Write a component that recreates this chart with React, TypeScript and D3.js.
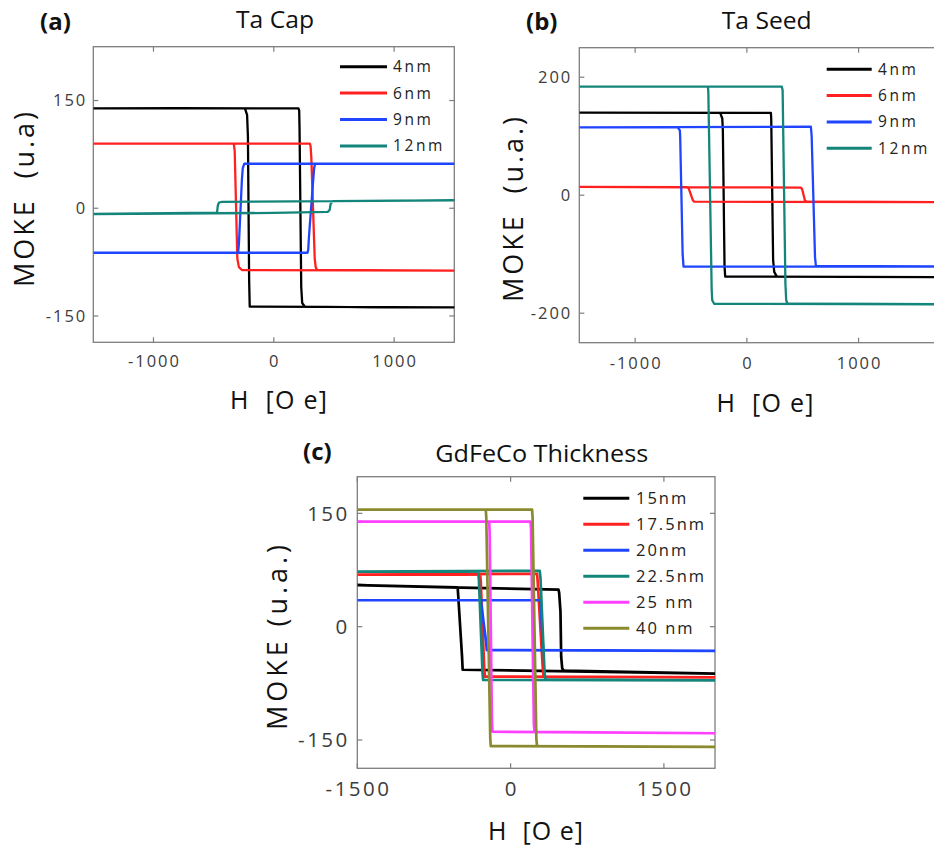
import React from 'react';
import * as d3 from 'd3';

type Pt = [number, number];

// ---------- Panel (a): Ta Cap ----------
const capLabels = ['4nm', '6nm', '9nm', '12nm'];
const capColors = ['#000000', '#ff2020', '#1f45ff', '#14857a'];
const capXTicks = [-1000, 0, 1000];
const capYTicks = [-150, 0, 150];
const cap4nm: Pt[] = [[-1500, 139], [-800, 139.5], [205, 139], [211, 136], [214, 110], [228, -110], [236, -132], [258, -137], [800, -138], [1500, -138], [-200, -137], [-205, -100], [-215, 100], [-222, 130], [-240, 139], [-1500, 139]];
const cap6nm: Pt[] = [[-1500, 90], [300, 90], [306, 86], [312, 70], [340, -70], [348, -82], [360, -86], [1500, -87], [-265, -86], [-290, -82], [-303, -70], [-325, 80], [-333, 90], [-1500, 90]];
const cap9nm: Pt[] = [[-1500, -62], [280, -62], [286, -58], [292, -40], [330, 45], [336, 57], [345, 62], [1500, 62], [-245, 62], [-258, 56], [-265, 40], [-290, -50], [-297, -62], [-1500, -62]];
const cap12nm: Pt[] = [[-1500, -8], [0, -6.5], [450, -5], [465, -2], [472, 6], [490, 10], [1000, 10.5], [1500, 11], [-430, 9], [-455, 8], [-465, 4], [-472, -6], [-1500, -8]];

// ---------- Panel (b): Ta Seed ----------
const seedLabels = ['4nm', '6nm', '9nm', '12nm'];
const seedColors = ['#000000', '#ff2020', '#1f45ff', '#14857a'];
const seedXTicks = [-1000, 0, 1000];
const seedYTicks = [-200, 0, 200];
const seed4nm: Pt[] = [[-1500, 140], [215, 139.5], [218, 130], [235, -110], [245, -130], [268, -138], [2000, -139], [-194, -138], [-200, -120], [-215, 110], [-220, 130], [-239, 139.5], [-1500, 140]];
const seed6nm: Pt[] = [[-1500, 14], [483, 13], [495, 10], [520, -9], [531, -11], [2000, -12], [-472, -11], [-485, -8], [-520, 11], [-532, 13.5], [-1500, 14]];
const seed9nm: Pt[] = [[-1500, 115], [573, 116], [580, 100], [610, -105], [618, -120], [2000, -121], [-567, -121], [-575, -100], [-597, 100], [-600, 110], [-621, 115.5], [-1500, 115]];
const seed12nm: Pt[] = [[-1500, 184], [313, 184], [320, 178], [345, -150], [352, -178], [364, -184], [2000, -185], [-293, -184], [-310, -178], [-315, -160], [-345, 175], [-349, 184], [-1500, 184]];

// ---------- Panel (c): GdFeCo Thickness ----------
const gdLabels = ['15nm', '17.5nm', '20nm', '22.5nm', '25 nm', '40 nm'];
const gdColors = ['#000000', '#ff2020', '#1f45ff', '#14857a', '#ff40ff', '#8a8a2e'];
const gdXTicks = [-1500, 0, 1500];
const gdYTicks = [-150, 0, 150];
const gd15nm: Pt[] = [[-1500, 55], [-600, 52], [469, 49], [475, 45], [488, 20], [495, -40], [505, -55], [518, -58], [2000, -62], [-469, -57], [-475, -40], [-512, 40], [-518, 52], [-1500, 55]];
const gd17nm: Pt[] = [[-1500, 69], [259, 70], [265, 60], [315, -55], [323, -66], [2000, -67], [-252, -66], [-258, -55], [-292, 60], [-298, 69], [-1500, 69]];
const gd20nm: Pt[] = [[-1500, 35], [291, 35], [297, 25], [315, -25], [320, -31], [2000, -32], [-233, -31], [-240, -20], [-285, 28], [-290, 35], [-1500, 35]];
const gd22nm: Pt[] = [[-1500, 73], [285, 74], [292, 65], [332, -60], [340, -70], [2000, -71], [-269, -70.5], [-275, -60], [-310, 62], [-317, 73], [-1500, 73]];
const gd25nm: Pt[] = [[-1500, 139], [195, 139], [200, 130], [228, -130], [235, -139], [2000, -141], [-178, -139], [-183, -125], [-205, 125], [-210, 139], [-1500, 139]];
const gd40nm: Pt[] = [[-1500, 155], [210, 155], [215, 145], [252, -148], [259, -158], [2000, -159], [-194, -158], [-199, -148], [-238, 145], [-243, 155], [-1500, 155]];

const FONT = "'Open Sans', 'DejaVu Sans', sans-serif";
const AXIS = '#7d7d7d';
const TICKTXT = '#3c3c3c';

type PanelProps = {
  id: string;
  x0: number; x1: number; y0: number; y1: number;
  xDomain: [number, number]; yDomain: [number, number];
  xTicks: number[]; yTicks: number[];
  series: Pt[][]; colors: string[]; labels: string[];
  lineW: number;
  tickFont: number; tickLS: number; yTickGap: number; xTickDy: number;
  leg: { lx0: number; lx1: number; tx: number; y: number; step: number; font: number; ls: number };
};

function Panel(p: PanelProps) {
  const xs = d3.scaleLinear().domain(p.xDomain).range([p.x0, p.x1]);
  const ys = d3.scaleLinear().domain(p.yDomain).range([p.y1, p.y0]);
  const line = d3.line<Pt>().x((d) => xs(d[0])).y((d) => ys(d[1]));
  const tl = 5;
  return (
    <g>
      <defs>
        <clipPath id={p.id}>
          <rect x={p.x0} y={p.y0} width={p.x1 - p.x0} height={p.y1 - p.y0} />
        </clipPath>
      </defs>
      <rect x={p.x0} y={p.y0} width={p.x1 - p.x0} height={p.y1 - p.y0} fill="#fff" stroke={AXIS} strokeWidth={1.3} />
      {p.xTicks.map((t) => (
        <g key={'xt' + t}>
          <line x1={xs(t)} x2={xs(t)} y1={p.y1} y2={p.y1 - tl} stroke={AXIS} strokeWidth={1.2} />
          <line x1={xs(t)} x2={xs(t)} y1={p.y0} y2={p.y0 + tl} stroke={AXIS} strokeWidth={1.2} />
          <text x={xs(t) + p.tickLS / 2} y={p.y1 + p.xTickDy} textAnchor="middle" fontFamily={FONT} fontSize={p.tickFont} fill={TICKTXT} style={{ letterSpacing: p.tickLS + 'px' }}>{t}</text>
        </g>
      ))}
      {p.yTicks.map((t) => (
        <g key={'yt' + t}>
          <line x1={p.x0} x2={p.x0 + tl} y1={ys(t)} y2={ys(t)} stroke={AXIS} strokeWidth={1.2} />
          <line x1={p.x1} x2={p.x1 - tl} y1={ys(t)} y2={ys(t)} stroke={AXIS} strokeWidth={1.2} />
          <text x={p.x0 - p.yTickGap + p.tickLS} y={ys(t)} dy="0.36em" textAnchor="end" fontFamily={FONT} fontSize={p.tickFont} fill={TICKTXT} style={{ letterSpacing: p.tickLS + 'px' }}>{t}</text>
        </g>
      ))}
      <g clipPath={`url(#${p.id})`}>
        {p.series.map((s, i) => (
          <path key={i} d={line(s) || ''} fill="none" stroke={p.colors[i]} strokeWidth={p.lineW} strokeLinejoin="round" />
        ))}
        {p.labels.map((lab, i) => {
          const y = p.leg.y + i * p.leg.step;
          return (
            <g key={'lg' + i}>
              <line x1={p.leg.lx0} x2={p.leg.lx1} y1={y} y2={y} stroke={p.colors[i]} strokeWidth={3} />
              <text x={p.leg.tx} y={y} dy="0.36em" fontFamily={FONT} fontSize={p.leg.font} fill="#222" style={{ letterSpacing: p.leg.ls + 'px', whiteSpace: 'pre' }}>{lab}</text>
            </g>
          );
        })}
      </g>
    </g>
  );
}

function YLabel({ x, y, len, text, size }: { x: number; y: number; len: number; text: string; size: number }) {
  return (
    <text transform={`translate(${x},${y}) rotate(-90)`} textAnchor="middle" fontFamily={FONT} fontSize={size} fill="#111" textLength={len} lengthAdjust="spacing" style={{ whiteSpace: 'pre' }}>{text}</text>
  );
}

function XLabel({ x, y, len, text, size }: { x: number; y: number; len: number; text: string; size: number }) {
  return (
    <text x={x} y={y} textAnchor="middle" fontFamily={FONT} fontSize={size} fill="#111" textLength={len} lengthAdjust="spacing" style={{ whiteSpace: 'pre' }}>{text}</text>
  );
}

function Title({ x, y, len, text }: { x: number; y: number; len: number; text: string }) {
  return <text x={x} y={y} textAnchor="middle" fontFamily={FONT} fontSize={23.5} fill="#111" textLength={len} lengthAdjust="spacingAndGlyphs">{text}</text>;
}

function Tag({ x, y, text }: { x: number; y: number; text: string }) {
  return <text x={x} y={y} fontFamily={FONT} fontSize={24} fontWeight="bold" fill="#111">{text}</text>;
}

export default function App() {
  return (
    <div style={{ position: 'absolute', left: 0, top: 0 }}>
      <svg width={934} height={850} viewBox="0 0 934 850" style={{ display: 'block', background: '#fff' }}>
        <rect x={0} y={0} width={934} height={850} fill="#fff" />
        {/* (a) */}
        <Tag x={40} y={30} text="(a)" />
        <Title x={275} y={28} len={78} text="Ta Cap" />
        <Panel
          id="clipA" x0={93.3} x1={454.3} y0={46.7} y1={342.3}
          xDomain={[-1500, 1500]} yDomain={[-186.7, 225]}
          xTicks={capXTicks} yTicks={capYTicks}
          series={[cap4nm, cap6nm, cap9nm, cap12nm]} colors={capColors} labels={capLabels}
          lineW={2.3} tickFont={16.5} tickLS={2} yTickGap={8} xTickDy={25}
          leg={{ lx0: 340, lx1: 387, tx: 393, y: 66.7, step: 26.4, font: 15.5, ls: 2.6 }}
        />
        <YLabel x={34} y={199.5} len={175} text="MOKE  (u.a)" size={27} />
        <XLabel x={278.5} y={409} len={97} text="H  [O e]" size={25} />

        {/* (b) */}
        <Tag x={526} y={30} text="(b)" />
        <Title x={766.7} y={29} len={90} text="Ta Seed" />
        <Panel
          id="clipB" x0={579.3} x1={970.3} y0={47.7} y1={342.7}
          xDomain={[-1500, 2000]} yDomain={[-250, 250]}
          xTicks={seedXTicks} yTicks={seedYTicks}
          series={[seed4nm, seed6nm, seed9nm, seed12nm]} colors={seedColors} labels={seedLabels}
          lineW={2.3} tickFont={16.5} tickLS={2} yTickGap={9} xTickDy={26.6}
          leg={{ lx0: 826.7, lx1: 871.7, tx: 878, y: 69.3, step: 26.3, font: 15.5, ls: 2.6 }}
        />
        <YLabel x={523} y={209.5} len={185} text="MOKE  (u.a.)" size={27} />
        <XLabel x={765} y={412} len={97} text="H  [O e]" size={25} />

        {/* (c) */}
        <Tag x={303} y={460} text="(c)" />
        <Title x={541.7} y={462} len={213} text="GdFeCo Thickness" />
        <Panel
          id="clipC" x0={357.3} x1={715} y0={476.7} y1={768.3}
          xDomain={[-1500, 2000]} yDomain={[-187.4, 198.5]}
          xTicks={gdXTicks} yTicks={gdYTicks}
          series={[gd15nm, gd17nm, gd20nm, gd22nm, gd25nm, gd40nm]} colors={gdColors} labels={gdLabels}
          lineW={2.7} tickFont={20.5} tickLS={2.5} yTickGap={10} xTickDy={28}
          leg={{ lx0: 583.3, lx1: 629.3, tx: 636, y: 498.3, step: 26, font: 16.5, ls: 2 }}
        />
        <YLabel x={287} y={637.5} len={185} text="MOKE (u.a.)" size={27} />
        <XLabel x={535.5} y={840} len={95} text="H  [O e]" size={25} />
      </svg>
    </div>
  );
}
